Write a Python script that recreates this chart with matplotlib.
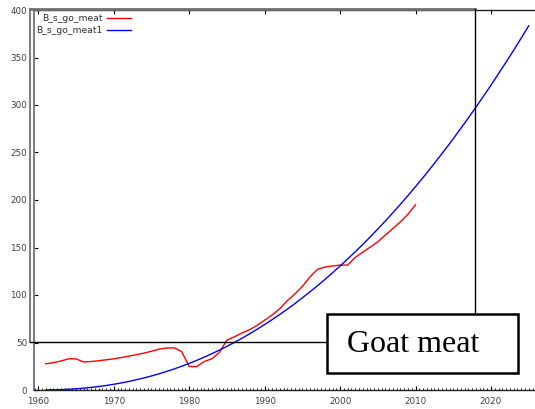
import matplotlib
matplotlib.use("Agg")
import matplotlib.pyplot as plt
from matplotlib.lines import Line2D
from matplotlib.patches import Rectangle
from matplotlib.ticker import MultipleLocator

# ---- data ----
years_meat = list(range(1961, 2011))
meat = [27.6, 28.8, 30.5, 32.8, 32.8, 29.5, 30.0, 30.8, 31.8, 32.8,
        34.2, 35.6, 37.2, 38.8, 40.8, 43.0, 44.2, 44.4, 40.5, 24.8,
        24.7, 30.0, 32.8, 39.5, 52.5, 56.0, 60.0, 63.5, 68.0, 73.5,
        79.0, 85.5, 94.0, 101.0, 109.0, 119.0, 127.0, 129.5, 130.5, 131.5,
        131.5, 139.5, 145.0, 150.5, 156.0, 163.0, 170.0, 177.0, 185.0, 195.0]
years_fit = list(range(1961, 2026))
meat1 = [0.04, 0.17, 0.42, 0.79, 1.29, 1.93, 2.72, 3.66, 4.76, 6.01,
         7.43, 9.01, 10.76, 12.69, 14.79, 17.07, 19.52, 22.16, 24.99, 28.0,
         31.21, 34.61, 38.20, 41.99, 45.96, 50.14, 54.53, 59.12, 63.90, 68.90,
         74.1, 79.5, 85.1, 90.9, 97.0, 103.3, 109.7, 116.4, 123.4, 130.5,
         137.9, 145.4, 153.2, 161.2, 169.5, 177.9, 186.6, 195.6, 204.7, 214.1,
         223.7, 233.5, 243.7, 254.0, 264.5, 275.4, 286.4, 297.7, 309.2, 320.9,
         333.0, 345.2, 357.6, 370.4, 383.4]
labels = ["B_s_go_meat", "B_s_go_meat1"]
xticks = [1960, 1970, 1980, 1990, 2000, 2010, 2020]
yticks = [0, 50, 100, 150, 200, 250, 300, 350, 400]
title = "Goat meat"

W, H = 535, 409
fig = plt.figure(figsize=(W / 100, H / 100), dpi=100)

def fx(x):
    return x / W

def fy(y):
    return 1 - y / H

ax = fig.add_axes([fx(34), fy(390), fx(535) - fx(34), fy(10) - fy(390)])
ax.plot(years_meat, meat, color="#ff0000", lw=1.0, label=labels[0])
ax.plot(years_fit, meat1, color="#0000ff", lw=1.0, label=labels[1])
ax.set_xlim(1959.43, 2025.83)
ax.set_ylim(0, 400)
ax.set_xticks(xticks)
ax.set_yticks(yticks)
ax.xaxis.set_minor_locator(MultipleLocator(0.5))
ax.tick_params(axis="both", which="major", direction="in", length=3,
               labelsize=6.3, labelcolor="#404040", width=0.8, pad=5,
               top=True, right=False)
ax.tick_params(axis="x", which="minor", direction="in", length=1.5,
               width=0.6, top=False)
ax.spines["right"].set_visible(False)
ax.spines["left"].set_color("#808080")
ax.spines["left"].set_linewidth(1.5)
ax.spines["bottom"].set_color("#222222")
ax.spines["bottom"].set_linewidth(1.0)
ax.spines["top"].set_color("#222222")
ax.spines["top"].set_linewidth(1.0)

leg = ax.legend(loc="upper right", bbox_to_anchor=(fx(131), fy(14)),
                bbox_transform=fig.transFigure, frameon=False,
                markerfirst=False, fontsize=6.7, handlelength=2.6,
                handletextpad=0.45, labelspacing=0.35, borderpad=0,
                borderaxespad=0)
for t in leg.get_texts():
    t.set_color("#303030")

# frame lines around the title annotation
fig.add_artist(Line2D([fx(30), fx(30)], [fy(9), fy(342)], color="#808080", lw=1.5))
fig.add_artist(Line2D([fx(30), fx(475)], [fy(9), fy(9)], color="#707070", lw=2.0))
fig.add_artist(Line2D([fx(475), fx(475)], [fy(9), fy(314)], color="black", lw=1.0))
fig.add_artist(Line2D([fx(30), fx(327)], [fy(342), fy(342)], color="black", lw=1.0))

fig.add_artist(Rectangle((fx(327), fy(373)), fx(518) - fx(327), fy(314) - fy(373),
                         transform=fig.transFigure, facecolor="white",
                         edgecolor="black", lw=1.8))
fig.text(fx(413.5), fy(344), title, ha="center", va="center",
         family="Liberation Serif", fontsize=23, color="black")

fig.savefig("out.png", dpi=100)
